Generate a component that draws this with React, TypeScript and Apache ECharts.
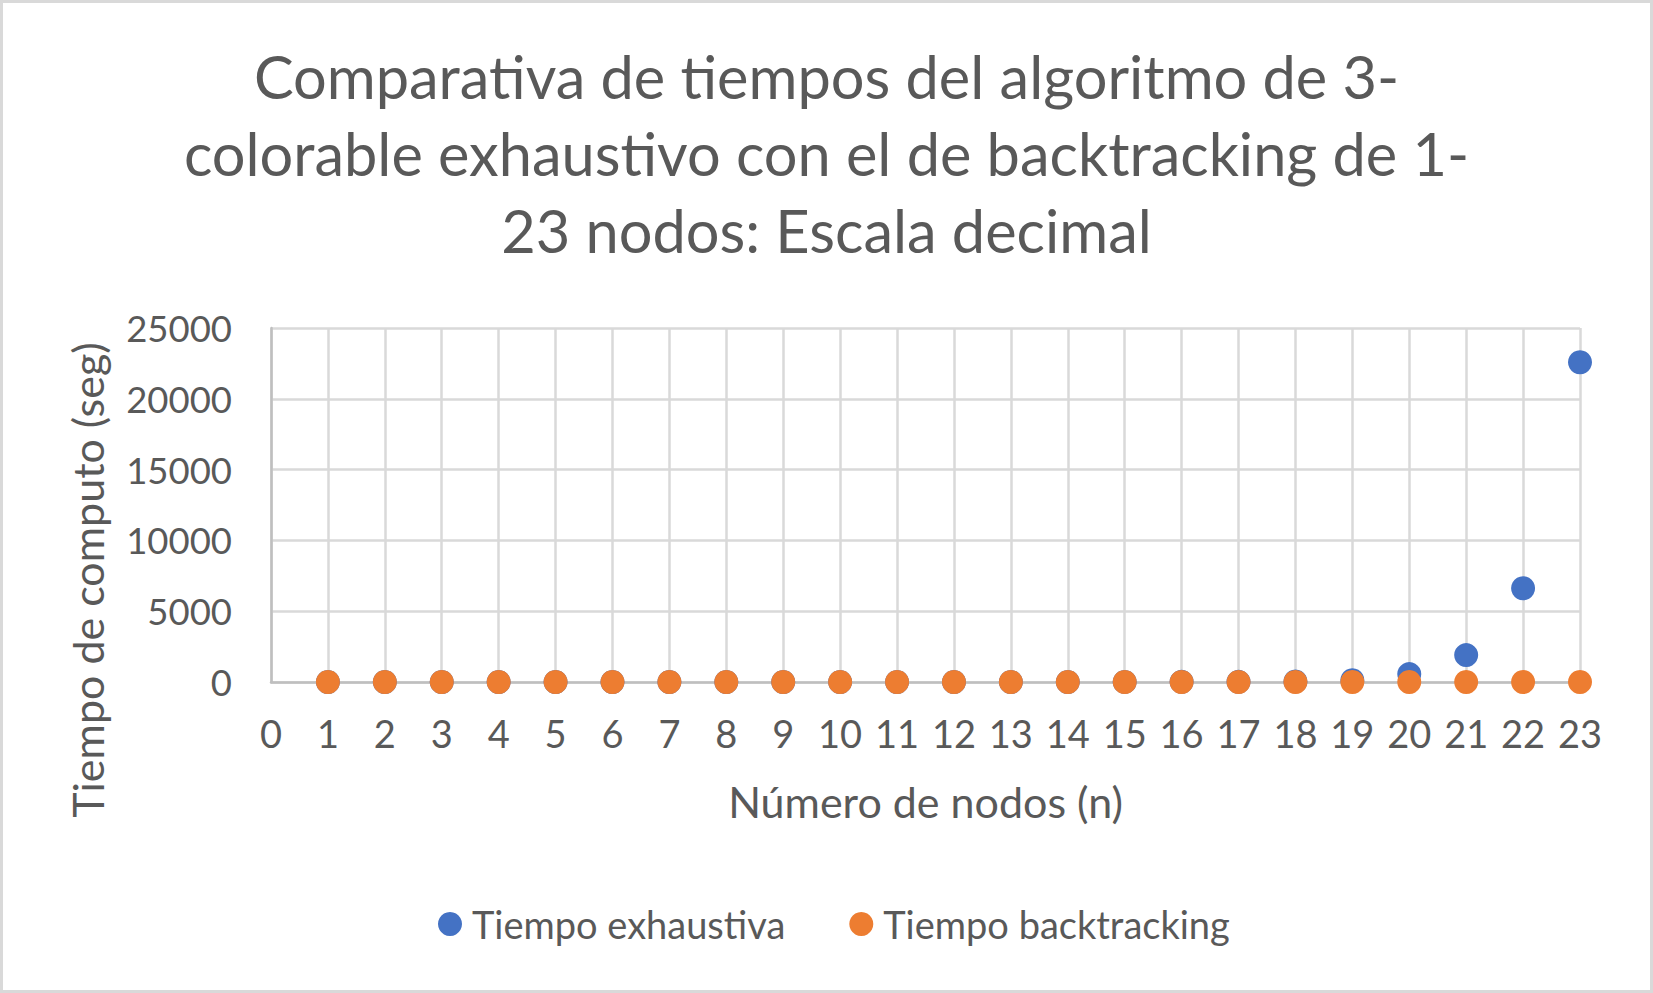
import React, { useEffect, useRef } from "react";
import * as echarts from "echarts";

const nodes = [1, 2, 3, 4, 5, 6, 7, 8, 9, 10, 11, 12, 13, 14, 15, 16, 17, 18, 19, 20, 21, 22, 23];
const tiempoExhaustiva = [0, 0, 0, 0, 0, 0, 0, 0.001, 0.004, 0.01, 0.03, 0.1, 0.3, 1, 3.5, 12, 14, 40, 130, 560, 1900, 6620, 22580];
const tiempoBacktracking = [0, 0, 0, 0, 0, 0, 0, 0, 0, 0, 0, 0, 0, 0, 0, 0, 0, 0, 0, 0, 0, 0, 0];
const seriesNames = ["Tiempo exhaustiva", "Tiempo backtracking"];
const titleText = "Comparativa de tiempos del algoritmo de 3-\ncolorable exhaustivo con el de backtracking de 1-\n23 nodos: Escala decimal";
const xAxisTitle = "Número de nodos (n)";
const yAxisTitle = "Tiempo de computo (seg)";

const FONT = "Lato";
const TEXT = "#595959";

export default function App() {
  const ref = useRef<HTMLDivElement>(null);
  useEffect(() => {
    if (!ref.current) return;
    const chart = echarts.init(ref.current, undefined, { renderer: "svg" });
    chart.setOption({
      animation: false,
      backgroundColor: "#ffffff",
      textStyle: { fontFamily: FONT, color: TEXT },
      title: {
        text: titleText,
        left: "center",
        top: 37,
        padding: 0,
        textStyle: { fontFamily: FONT, fontSize: 59.5, fontWeight: "normal", color: TEXT, lineHeight: 77 },
      },
      legend: {
        data: seriesNames,
        left: 438,
        top: 905,
        icon: "circle",
        itemWidth: 24,
        itemHeight: 24,
        itemGap: 64,
        padding: 0,
        textStyle: { fontFamily: FONT, fontSize: 38, color: TEXT, padding: [0, 0, 0, 5] },
      },
      graphic: [
        {
          type: "rect",
          shape: { x: 1.5, y: 1.5, width: 1650, height: 990 },
          style: { fill: "none", stroke: "#D9D9D9", lineWidth: 3 },
          silent: true,
        },
        {
          type: "text",
          x: 87,
          y: 580,
          rotation: Math.PI / 2,
          silent: true,
          style: {
            text: yAxisTitle,
            fontFamily: FONT,
            fontSize: 43,
            fill: TEXT,
            align: "center",
            verticalAlign: "middle",
          },
        },
      ],
      grid: { left: 271, right: 73, top: 328, bottom: 311, containLabel: false },
      xAxis: {
        type: "value",
        min: 0,
        max: 23,
        interval: 1,
        name: xAxisTitle,
        nameLocation: "middle",
        nameGap: 98,
        nameTextStyle: { fontFamily: FONT, fontSize: 43, color: TEXT },
        axisLine: { show: true, onZero: false, lineStyle: { color: "#BFBFBF", width: 2.5 } },
        axisTick: { show: false },
        axisLabel: { fontFamily: FONT, fontSize: 38, color: TEXT, margin: 32 },
        splitLine: { show: true, lineStyle: { color: "#D9D9D9", width: 2.5 } },
      },
      yAxis: {
        type: "value",
        min: 0,
        max: 25000,
        interval: 5000,
        axisLine: { show: true, lineStyle: { color: "#BFBFBF", width: 2.5 } },
        axisTick: { show: false },
        axisLabel: {
          fontFamily: FONT,
          fontSize: 36.5,
          color: TEXT,
          margin: 39,
          formatter: (v: number) => String(v),
        },
        splitLine: { show: true, lineStyle: { color: "#D9D9D9", width: 2.5 } },
      },
      series: [
        {
          name: seriesNames[0],
          type: "scatter",
          symbol: "circle",
          symbolSize: 24,
          itemStyle: { color: "#4472C4", opacity: 1 },
          data: nodes.map((n, i) => [n, tiempoExhaustiva[i]]),
        },
        {
          name: seriesNames[1],
          type: "scatter",
          symbol: "circle",
          symbolSize: 24,
          itemStyle: { color: "#ED7D31", opacity: 1 },
          data: nodes.map((n, i) => [n, tiempoBacktracking[i]]),
        },
      ],
    });
    return () => chart.dispose();
  }, []);
  return (
    <div
      ref={ref}
      style={{ position: "absolute", left: 0, top: 0, width: 1653, height: 993 }}
    />
  );
}
